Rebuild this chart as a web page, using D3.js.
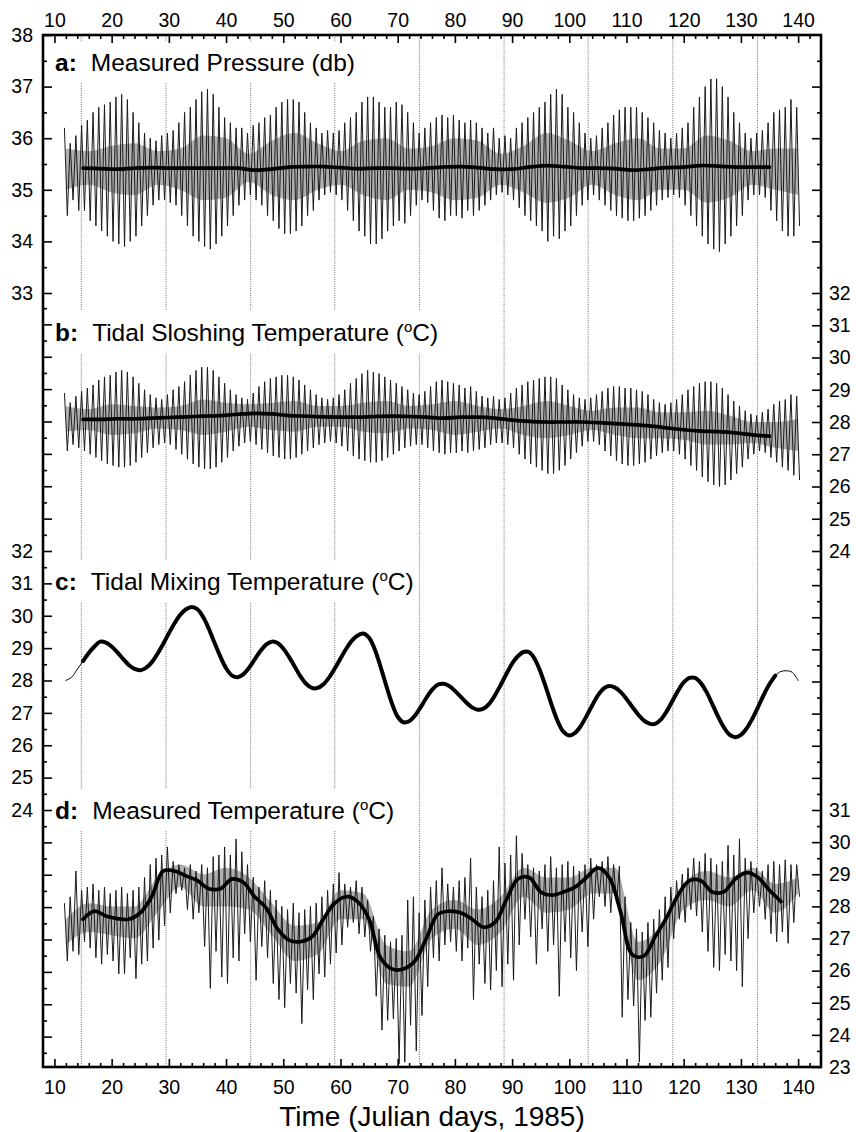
<!DOCTYPE html>
<html>
<head>
<meta charset="utf-8">
<script src="https://cdn.jsdelivr.net/npm/d3@7"></script>
<style>
  body { margin: 0; background: #fff; }
  svg { display: block; }
  text { font-family: "Liberation Sans", Arial, Helvetica, sans-serif; fill: #000; }
</style>
</head>
<body>
<svg id="chart" width="856" height="1132"></svg>
<script>

// ---- data ----

// raw series: one high / low per day, days 12..140
var rawDays = d3.range(12, 141);

var pressHigh = [
  36.2, 35.9, 36.05, 36.25, 36.35, 36.5, 36.6, 36.65, 36.7, 36.8,
  36.85, 36.75, 36.5, 36.3, 36.1, 36.0, 35.95, 36.05, 36.1, 36.15,
  36.3, 36.5, 36.6, 36.75, 36.9, 36.95, 36.85, 36.6, 36.4, 36.3,
  36.2, 36.2, 36.1, 36.25, 36.3, 36.4, 36.45, 36.6, 36.7, 36.75,
  36.75, 36.7, 36.5, 36.3, 36.2, 36.1, 36.15, 36.1, 36.15, 36.3,
  36.4, 36.5, 36.7, 36.8, 36.8, 36.7, 36.6, 36.6, 36.7, 36.65,
  36.5, 36.3, 36.1, 36.2, 36.3, 36.4, 36.45, 36.4, 36.45, 36.35,
  36.3, 36.35, 36.3, 36.2, 36.1, 36.2, 36.0, 36.05, 36.0, 36.2,
  36.3, 36.4, 36.5, 36.6, 36.7, 36.85, 36.95, 36.85, 36.6, 36.5,
  36.3, 36.1, 36.0, 36.05, 36.2, 36.3, 36.45, 36.55, 36.6, 36.6,
  36.6, 36.5, 36.4, 36.3, 36.15, 36.1, 36.0, 36.1, 36.2, 36.3,
  36.6, 36.8, 37.0, 37.15, 37.15, 37.0, 36.8, 36.5, 36.3, 36.1,
  36.0, 36.1, 36.15, 36.3, 36.5, 36.55, 36.6, 36.75, 36.6
];
var pressLow = [
  34.5, 34.8, 34.6, 34.6, 34.4, 34.3, 34.2, 34.1, 34.0, 33.95,
  33.9, 34.0, 34.1, 34.3, 34.5, 34.7, 34.8, 34.8, 34.75, 34.7,
  34.5, 34.3, 34.1, 34.0, 33.9, 33.85, 33.95, 34.1, 34.3, 34.5,
  34.7, 34.8, 34.9, 34.8, 34.7, 34.5, 34.4, 34.25, 34.15, 34.15,
  34.2, 34.3, 34.5, 34.6, 34.8, 34.9, 34.95, 34.9, 34.8, 34.6,
  34.4, 34.2, 34.1, 33.95, 33.95, 34.05, 34.2, 34.3, 34.4, 34.35,
  34.5, 34.7, 34.8, 34.75, 34.6, 34.45, 34.4, 34.5, 34.5, 34.45,
  34.6, 34.5, 34.6, 34.7, 34.8, 34.9, 34.95, 34.9, 34.8, 34.65,
  34.5, 34.4, 34.3, 34.2, 34.0, 34.1, 34.05, 34.2, 34.3, 34.5,
  34.7, 34.8, 34.9, 34.8, 34.7, 34.6, 34.5, 34.45, 34.4, 34.4,
  34.45, 34.5, 34.6, 34.7, 34.8, 34.85, 34.9, 34.85, 34.7, 34.5,
  34.3, 34.1, 33.95, 33.85, 33.8, 33.95, 34.1, 34.3, 34.5, 34.8,
  34.9, 34.9, 34.85, 34.6, 34.4, 34.2, 34.1, 34.1, 34.3
];

var sloshHigh = [
  28.9, 28.6, 28.8, 28.95, 29.05, 29.15, 29.3, 29.4, 29.45, 29.55,
  29.6, 29.55, 29.4, 29.2, 29.0, 28.85, 28.75, 28.7, 28.85, 29.0,
  29.1, 29.25, 29.45, 29.6, 29.7, 29.7, 29.6, 29.4, 29.2, 29.0,
  28.85, 28.75, 28.7, 28.9, 29.1, 29.25, 29.35, 29.4, 29.45, 29.45,
  29.4, 29.3, 29.15, 29.0, 28.85, 28.75, 28.7, 28.75, 28.85, 29.0,
  29.2, 29.35, 29.5, 29.6, 29.55, 29.5, 29.4, 29.3, 29.2, 29.1,
  29.0, 28.9, 28.85, 28.95, 29.1, 29.25, 29.3, 29.25, 29.2, 29.15,
  29.05, 29.1, 28.95, 28.8, 28.75, 28.8, 28.7, 28.75, 28.9, 29.05,
  29.15, 29.25, 29.3, 29.35, 29.4, 29.4, 29.35, 29.15, 29.0, 28.85,
  28.75, 28.7, 28.75, 28.85, 28.95, 29.05, 29.1, 29.1, 29.05, 29.05,
  29.0, 28.95, 28.85, 28.7, 28.6, 28.55, 28.6, 28.7, 28.85, 29.0,
  29.1, 29.2, 29.25, 29.25, 29.2, 29.05, 28.85, 28.65, 28.5, 28.35,
  28.25, 28.2, 28.3, 28.4, 28.55, 28.65, 28.7, 28.85, 28.8
];
var sloshLow = [
  27.1, 27.3, 27.2, 27.1, 27.0, 26.9, 26.8, 26.7, 26.65, 26.6,
  26.6, 26.65, 26.75, 26.9, 27.05, 27.2, 27.3, 27.35, 27.3, 27.15,
  27.0, 26.85, 26.7, 26.6, 26.55, 26.55, 26.6, 26.75, 26.9, 27.1,
  27.25, 27.35, 27.4, 27.3, 27.15, 27.05, 26.95, 26.9, 26.85, 26.85,
  26.9, 27.0, 27.1, 27.2, 27.3, 27.35, 27.4, 27.35, 27.25, 27.1,
  26.95, 26.85, 26.8, 26.75, 26.75, 26.8, 26.9, 27.0, 27.1, 27.2,
  27.25, 27.3, 27.3, 27.2, 27.1, 27.05, 27.0, 27.05, 27.05, 27.1,
  27.05, 27.1, 27.15, 27.2, 27.3, 27.35, 27.35, 27.3, 27.2, 27.0,
  26.85, 26.7, 26.6, 26.5, 26.4, 26.4, 26.5, 26.65, 26.85, 27.05,
  27.25, 27.4, 27.4, 27.3, 27.1, 26.95, 26.8, 26.7, 26.65, 26.65,
  26.7, 26.75, 26.85, 26.95, 27.05, 27.1, 27.1, 27.0, 26.85, 26.65,
  26.5, 26.3, 26.15, 26.05, 26.0, 26.05, 26.2, 26.4, 26.6, 26.85,
  27.0, 27.1, 27.05, 26.9, 26.75, 26.6, 26.5, 26.35, 26.2
];

var mixTemp = [
  28.0, 28.1, 28.35, 28.6, 28.85, 29.05, 29.2, 29.17, 29.05, 28.87,
  28.67, 28.48, 28.36, 28.32, 28.39, 28.56, 28.82, 29.13, 29.46, 29.77,
  30.03, 30.2, 30.27, 30.2, 29.96, 29.59, 29.16, 28.74, 28.38, 28.16,
  28.1, 28.19, 28.39, 28.65, 28.91, 29.11, 29.2, 29.16, 28.99, 28.73,
  28.43, 28.13, 27.9, 27.77, 27.77, 27.88, 28.09, 28.37, 28.68, 28.98,
  29.23, 29.39, 29.45, 29.32, 28.96, 28.43, 27.84, 27.29, 26.88, 26.71,
  26.74, 26.91, 27.17, 27.46, 27.71, 27.87, 27.9, 27.83, 27.68, 27.5,
  27.32, 27.17, 27.1, 27.13, 27.28, 27.54, 27.86, 28.2, 28.52, 28.75,
  28.88, 28.87, 28.65, 28.25, 27.74, 27.2, 26.73, 26.41, 26.3, 26.38,
  26.59, 26.9, 27.23, 27.54, 27.75, 27.83, 27.78, 27.64, 27.43, 27.19,
  26.96, 26.77, 26.67, 26.66, 26.79, 27.04, 27.36, 27.68, 27.94, 28.08,
  28.08, 27.92, 27.64, 27.27, 26.89, 26.56, 26.33, 26.25, 26.32, 26.52,
  26.82, 27.18, 27.56, 27.89, 28.15, 28.28, 28.3, 28.25, 28.0
];

var measHigh = [
  28.1, 28.3, 29.1, 28.5, 28.6, 28.7, 28.5, 28.6, 28.4, 28.5,
  28.6, 28.4, 28.5, 28.6, 28.9, 29.3, 29.5, 29.6, 29.85, 29.4,
  29.3, 29.2, 29.3, 29.1, 29.3, 29.2, 29.55, 29.6, 29.85, 29.6,
  30.1, 29.7, 29.3, 28.9, 28.6, 28.8, 28.5, 28.2, 28.0, 27.9,
  28.1, 27.8, 27.9, 28.0, 28.1, 28.3, 28.5, 28.7, 29.05, 28.7,
  28.6, 28.8, 28.6, 28.2, 27.7, 27.3, 27.1, 26.9, 27.0, 27.1,
  28.2, 28.3, 27.8, 28.2, 28.6, 28.8, 29.2, 28.7, 28.6, 28.8,
  28.9, 29.5, 28.6, 28.3, 28.5, 28.8, 29.85, 29.35, 29.6, 30.2,
  29.65, 29.3, 29.2, 29.1, 29.3, 29.55, 29.2, 29.3, 29.4, 29.25,
  29.1, 29.3, 29.5, 29.3, 29.4, 29.55, 29.3, 29.25, 28.3, 27.5,
  27.3, 27.2, 27.5, 27.6, 27.9, 28.3, 28.6, 28.8, 29.0, 29.2,
  29.5, 29.4, 29.65, 29.5, 29.3, 29.4, 29.9, 29.6, 30.1, 29.5,
  29.4, 29.2, 29.1, 29.3, 29.4, 29.3, 29.45, 29.3, 29.3
];
var measLow = [
  26.3, 26.6, 26.5, 26.9, 26.7, 26.4, 26.2, 26.5, 26.3, 25.9,
  25.9, 26.4, 25.75, 26.2, 26.3, 26.7, 26.95, 27.4, 27.8, 28.4,
  28.5, 27.9, 27.6, 27.8, 26.75, 25.45, 26.6, 25.8, 25.6, 26.4,
  26.3, 27.15, 26.9, 25.7, 26.75, 26.4, 25.6, 25.1, 24.85, 25.6,
  25.3, 24.35, 25.4, 25.1, 25.9, 25.8, 26.2, 26.55, 26.8, 27.35,
  27.5, 27.15, 27.05, 26.6, 25.2, 24.15, 24.45, 24.5, 23.1, 23.15,
  24.3, 23.5, 24.6, 25.5, 26.4, 26.3, 26.8, 26.9, 26.6, 26.3,
  26.7, 25.1, 26.2, 25.6, 25.4, 26.0, 25.5, 26.2, 25.7, 26.8,
  27.6, 27.05, 26.2, 27.3, 26.6, 26.8, 25.2, 26.9, 26.4, 26.0,
  27.2, 26.75, 27.6, 28.3, 28.0, 27.8, 28.1, 24.55, 25.1, 24.9,
  23.15, 24.45, 24.55, 25.3, 25.7, 26.1, 27.0, 27.6, 27.5, 27.9,
  27.7, 27.2, 26.6, 26.1, 26.0, 26.5, 26.3, 26.0, 25.5, 27.0,
  27.8, 28.0, 27.6, 27.15, 26.9, 27.2, 26.85, 27.5, 28.3
];

// grey core of the raw traces, every 4 days
var bandDays = d3.range(12, 141, 4);
var pressBandHi = [35.8, 35.75, 35.85, 35.9, 35.75, 35.8, 36.05, 36.0, 35.7, 35.95, 36.1, 35.9, 35.75, 35.95, 36.0, 35.8, 35.85, 36.0, 35.95, 35.7, 35.85, 36.1, 35.95, 35.75, 35.9, 36.0, 35.8, 35.8, 36.05, 35.95, 35.75, 35.8, 35.8];
var pressBandLo = [35.0, 35.1, 34.95, 34.9, 35.1, 35.0, 34.8, 34.85, 35.15, 34.9, 34.8, 35.0, 35.1, 34.9, 34.8, 35.0, 34.95, 34.8, 34.85, 35.1, 34.95, 34.75, 34.85, 35.1, 34.9, 34.8, 35.0, 35.0, 34.75, 34.85, 35.1, 35.0, 34.9];
var sloshBandHi = [28.5, 28.4, 28.55, 28.5, 28.45, 28.5, 28.7, 28.6, 28.55, 28.6, 28.65, 28.5, 28.5, 28.6, 28.65, 28.5, 28.55, 28.65, 28.5, 28.4, 28.5, 28.65, 28.5, 28.35, 28.45, 28.45, 28.3, 28.3, 28.35, 28.2, 28.0, 28.0, 28.1];
var sloshBandLo = [27.7, 27.75, 27.6, 27.65, 27.8, 27.75, 27.6, 27.7, 27.85, 27.75, 27.7, 27.85, 27.85, 27.7, 27.65, 27.8, 27.75, 27.6, 27.7, 27.8, 27.6, 27.5, 27.6, 27.75, 27.6, 27.5, 27.5, 27.45, 27.3, 27.3, 27.35, 27.2, 27.1];
var measBandHi = [27.6, 28.1, 28.0, 28.0, 28.9, 29.3, 29.0, 29.2, 28.9, 28.1, 27.4, 27.5, 28.5, 28.4, 26.8, 26.6, 27.9, 28.2, 27.9, 28.3, 29.2, 28.9, 28.9, 29.2, 29.2, 26.9, 27.4, 28.7, 29.1, 28.9, 29.2, 28.7, 28.9];
var measBandLo = [26.8, 27.2, 27.1, 27.0, 27.8, 28.6, 28.0, 28.0, 27.9, 27.1, 26.3, 26.5, 27.6, 27.6, 25.6, 25.5, 27.0, 27.3, 26.8, 27.2, 28.3, 27.8, 27.9, 28.4, 28.4, 25.7, 26.3, 27.9, 28.2, 28.0, 28.5, 27.8, 28.4];

// smoothed (low-passed) curves
var smoothDaysAB = d3.range(15, 136, 3);
var pressSmooth = [35.42, 35.41, 35.4, 35.42, 35.43, 35.42, 35.42, 35.42, 35.42, 35.42, 35.38, 35.4, 35.44, 35.45, 35.45, 35.43, 35.41, 35.42, 35.42, 35.41, 35.42, 35.44, 35.45, 35.43, 35.4, 35.4, 35.44, 35.47, 35.45, 35.42, 35.42, 35.41, 35.38, 35.4, 35.43, 35.44, 35.47, 35.46, 35.44, 35.44, 35.44];
var sloshSmooth = [28.08, 28.08, 28.1, 28.1, 28.12, 28.14, 28.16, 28.18, 28.2, 28.24, 28.27, 28.25, 28.2, 28.18, 28.16, 28.15, 28.15, 28.17, 28.18, 28.17, 28.15, 28.12, 28.15, 28.15, 28.12, 28.06, 28.02, 28.0, 28.0, 28.0, 27.98, 27.95, 27.92, 27.88, 27.82, 27.76, 27.72, 27.7, 27.66, 27.6, 27.56];
var smoothDaysD = d3.range(15, 138, 2);
var measSmooth = [27.6, 27.85, 27.7, 27.62, 27.6, 27.8, 28.3, 29.1, 29.1, 28.95, 28.8, 28.55, 28.55, 28.85, 28.75, 28.3, 27.95, 27.3, 26.95, 26.9, 27.05, 27.6, 28.1, 28.3, 28.15, 27.6, 26.4, 26.05, 26.05, 26.3, 27.0, 27.75, 27.85, 27.8, 27.6, 27.35, 27.5, 28.2, 28.85, 28.9, 28.45, 28.35, 28.45, 28.6, 28.9, 29.2, 28.9, 27.8, 26.5, 26.45, 27.05, 27.65, 28.35, 28.8, 28.8, 28.45, 28.45, 28.85, 29.05, 28.9, 28.5, 28.15];

// spring-tide markers (vertical dotted lines)
var gridDays = [14.7, 29.5, 44.3, 59.0, 73.8, 88.6, 103.3, 118.1, 132.9];

var titles = [
  {tag: "a:", label: "Measured Pressure (db)", deg: false},
  {tag: "b:", label: "Tidal Sloshing Temperature (", deg: true},
  {tag: "c:", label: "Tidal Mixing Temperature (", deg: true},
  {tag: "d:", label: "Measured Temperature (", deg: true}
];

// ---- setup ----

var svg = d3.select("svg#chart"),
    plotLeft = 43, plotRight = 821, plotTop = 35, plotBottom = 1067;

var x = d3.scaleLinear().domain([8, 144]).range([plotLeft, plotRight]);
var yA = d3.scaleLinear().domain([33, 38]).range([293, plotTop]);
var yB = d3.scaleLinear().domain([24, 32]).range([551, 293]);
var yC = d3.scaleLinear().domain([24, 32]).range([810, 551]);
var yD = d3.scaleLinear().domain([23, 31]).range([plotBottom, 810]);

// gridlines
svg.append("g")
  .selectAll("line")
  .data(gridDays)
  .enter().append("line")
    .attr("x1", function(d) { return x(d); })
    .attr("x2", function(d) { return x(d); })
    .attr("y1", plotTop)
    .attr("y2", plotBottom)
    .attr("stroke", "#444")
    .attr("stroke-width", 0.8)
    .attr("stroke-dasharray", "1,1.3");

function drawRaw(y, hi, lo, bandHi, bandLo) {
  var g = svg.append("g");

  var band = d3.area()
    .x(function(d, i) { return x(bandDays[i]); })
    .y0(function(d, i) { return y(bandLo[i]); })
    .y1(function(d, i) { return y(bandHi[i]); })
    .curve(d3.curveMonotoneX);

  g.append("path")
    .attr("d", band(bandDays))
    .attr("fill", "#b0b0b0");

  var pts = [];
  rawDays.forEach(function(d, i) {
    pts.push([d - 0.25, hi[i]]);
    pts.push([d + 0.25, lo[i]]);
  });

  var zig = d3.line()
    .x(function(d) { return x(d[0]); })
    .y(function(d) { return y(d[1]); });

  g.append("path")
    .attr("d", zig(pts))
    .attr("fill", "none")
    .attr("stroke", "#1a1a1a")
    .attr("stroke-width", 1);
}

function drawSmooth(y, days, vals, w) {
  var line = d3.line()
    .x(function(d, i) { return x(days[i]); })
    .y(function(d) { return y(d); })
    .curve(d3.curveCatmullRom);

  svg.append("path")
    .attr("d", line(vals))
    .attr("fill", "none")
    .attr("stroke", "#000")
    .attr("stroke-width", w)
    .attr("stroke-linejoin", "round")
    .attr("stroke-linecap", "round");
}

drawRaw(yA, pressHigh, pressLow, pressBandHi, pressBandLo);
drawSmooth(yA, smoothDaysAB, pressSmooth, 3.7);

drawRaw(yB, sloshHigh, sloshLow, sloshBandHi, sloshBandLo);
drawSmooth(yB, smoothDaysAB, sloshSmooth, 3.7);

// panel c: thin raw line end to end, thick filtered line inside
drawSmooth(yC, rawDays, mixTemp, 1);
var inner = rawDays.map(function(d, i) { return [d, mixTemp[i]]; })
  .filter(function(p) { return p[0] >= 15 && p[0] <= 136; });
drawSmooth(yC, inner.map(function(p) { return p[0]; }), inner.map(function(p) { return p[1]; }), 4);

drawRaw(yD, measHigh, measLow, measBandHi, measBandLo);
drawSmooth(yD, smoothDaysD, measSmooth, 3.7);

// ---- titles (white box breaks the gridlines) ----

var titleY = [71, 341, 590, 819];

titles.forEach(function(t, i) {
  var g = svg.append("g");
  var bg = g.append("rect").attr("fill", "#fff");
  var txt = g.append("text")
    .attr("x", 55)
    .attr("y", titleY[i])
    .attr("font-size", "24.5px");
  txt.append("tspan").attr("font-weight", "bold").text(t.tag);
  txt.append("tspan").attr("dx", 14).text(t.label);
  if (t.deg) {
    txt.append("tspan").attr("font-size", "15px").attr("dy", -9).text("o");
    txt.append("tspan").attr("dy", 9).text("C)");
  }
  var bb = txt.node().getBBox();
  bg.attr("x", bb.x - 4)
    .attr("y", bb.y - 7)
    .attr("width", bb.width + 8)
    .attr("height", bb.height + 14);
});

// ---- axes ----

function clean(g) {
  g.select(".domain").remove();
  g.selectAll("text").attr("font-size", "19.5px").attr("font-family", null);
  g.selectAll("line").attr("stroke-width", 1.6);
}

function noLabel() { return ""; }
function halfSteps(a, b) { return d3.range(a + 0.5, b, 1); }

var minorDays = d3.range(10, 143, 2).filter(function(d) { return d % 10; });

// top
svg.append("g").attr("transform", "translate(0," + plotTop + ")")
  .call(d3.axisTop(x).tickValues(d3.range(10, 141, 10)).tickSizeInner(-8).tickSizeOuter(0).tickPadding(8))
  .call(clean);
svg.append("g").attr("transform", "translate(0," + plotTop + ")")
  .call(d3.axisTop(x).tickValues(minorDays).tickSize(-4).tickFormat(noLabel))
  .call(clean);

// bottom
svg.append("g").attr("transform", "translate(0," + plotBottom + ")")
  .call(d3.axisBottom(x).tickValues(d3.range(10, 141, 10)).tickSizeInner(-8).tickSizeOuter(0).tickPadding(13))
  .call(clean);
svg.append("g").attr("transform", "translate(0," + plotBottom + ")")
  .call(d3.axisBottom(x).tickValues(minorDays).tickSize(-4).tickFormat(noLabel))
  .call(clean);

// left: panel a scale on top, panel c scale below
svg.append("g").attr("transform", "translate(" + plotLeft + ",0)")
  .call(d3.axisLeft(yA).tickValues(d3.range(33, 39)).tickSizeInner(-9).tickSizeOuter(0).tickPadding(10)
    .tickFormat(d3.format("d")))
  .call(clean);
svg.append("g").attr("transform", "translate(" + plotLeft + ",0)")
  .call(d3.axisLeft(yA).tickValues(halfSteps(33, 38)).tickSize(-4).tickFormat(noLabel))
  .call(clean);
svg.append("g").attr("transform", "translate(" + plotLeft + ",0)")
  .call(d3.axisLeft(yC).tickValues(d3.range(17, 40)).tickSizeInner(-9).tickSizeOuter(0).tickPadding(10)
    .tickFormat(function(d) { return d >= 24 && d <= 32 ? d : ""; }))
  .call(clean);
svg.append("g").attr("transform", "translate(" + plotLeft + ",0)")
  .call(d3.axisLeft(yC).tickValues(halfSteps(16, 40)).tickSize(-4).tickFormat(noLabel))
  .call(clean);

// right: panel a ticks, panel b scale, panel d scale
svg.append("g").attr("transform", "translate(" + plotRight + ",0)")
  .call(d3.axisRight(yA).tickValues(d3.range(34, 38)).tickSize(-9).tickFormat(noLabel))
  .call(clean);
svg.append("g").attr("transform", "translate(" + plotRight + ",0)")
  .call(d3.axisRight(yA).tickValues(halfSteps(33, 38)).tickSize(-4).tickFormat(noLabel))
  .call(clean);
svg.append("g").attr("transform", "translate(" + plotRight + ",0)")
  .call(d3.axisRight(yB).tickValues(d3.range(24, 33)).tickSizeInner(-9).tickSizeOuter(0).tickPadding(8))
  .call(clean);
svg.append("g").attr("transform", "translate(" + plotRight + ",0)")
  .call(d3.axisRight(yB).tickValues(halfSteps(24, 32)).tickSize(-4).tickFormat(noLabel))
  .call(clean);
svg.append("g").attr("transform", "translate(" + plotRight + ",0)")
  .call(d3.axisRight(yD).tickValues(d3.range(23, 39)).tickSizeInner(-9).tickSizeOuter(0).tickPadding(8)
    .tickFormat(function(d) { return d <= 31 ? d : ""; }))
  .call(clean);
svg.append("g").attr("transform", "translate(" + plotRight + ",0)")
  .call(d3.axisRight(yD).tickValues(halfSteps(23, 39)).tickSize(-4).tickFormat(noLabel))
  .call(clean);

// frame
svg.append("rect")
  .attr("x", plotLeft)
  .attr("y", plotTop)
  .attr("width", plotRight - plotLeft)
  .attr("height", plotBottom - plotTop)
  .attr("fill", "none")
  .attr("stroke", "#000")
  .attr("stroke-width", 2.6);

// x axis title
svg.append("text")
  .attr("x", (plotLeft + plotRight) / 2)
  .attr("y", 1126)
  .attr("text-anchor", "middle")
  .attr("font-size", "28px")
  .text("Time (Julian days, 1985)");

</script>
</body>
</html>
